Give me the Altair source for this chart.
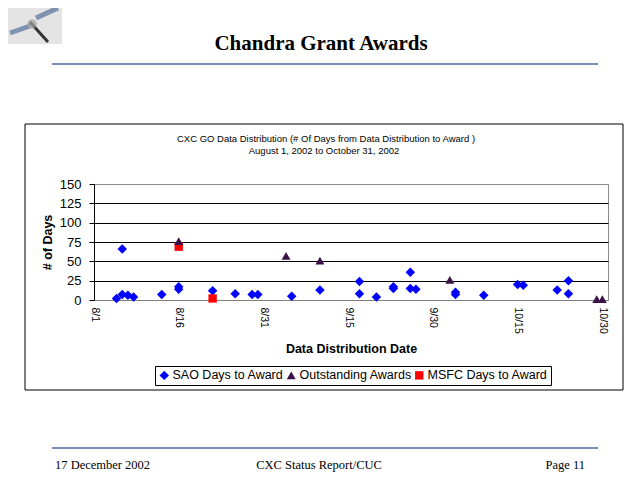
import altair as alt
import pandas as pd

# data (date of data distribution, days until award)
sao_dates = ["2002-08-05", "2002-08-06", "2002-08-06", "2002-08-07", "2002-08-08",
             "2002-08-13", "2002-08-16", "2002-08-16", "2002-08-22", "2002-08-26",
             "2002-08-29", "2002-08-30", "2002-09-05", "2002-09-10", "2002-09-17",
             "2002-09-17", "2002-09-20", "2002-09-23", "2002-09-23", "2002-09-26",
             "2002-09-26", "2002-09-27", "2002-10-04", "2002-10-04", "2002-10-09",
             "2002-10-15", "2002-10-16", "2002-10-22", "2002-10-24", "2002-10-24"]
sao_days = [2, 7, 66, 6, 4,
            7, 17, 14, 12, 8,
            7, 7, 5, 13, 24,
            8, 4, 17, 15, 36,
            15, 14, 10, 7, 6,
            20, 19, 13, 25, 8]

outstanding_dates = ["2002-08-16", "2002-09-04", "2002-09-10", "2002-10-03", "2002-10-29", "2002-10-30"]
outstanding_days = [76, 57, 51, 26, 1, 1]

msfc_dates = ["2002-08-16", "2002-08-22"]
msfc_days = [69, 2]

series = ["SAO Days to Award", "Outstanding Awards", "MSFC Days to Award"]
colors = ["#0000ff", "#3b1248", "#ff0000"]
shapes = ["diamond", "triangle-up", "square"]
sizes = [90, 70, 30]
draw_order = [0, 2, 1]  # triangles sit on top of the red squares

y_ticks = [0, 25, 50, 75, 100, 125, 150]
x_ticks = ["2002-08-01", "2002-08-16", "2002-08-31", "2002-09-15", "2002-09-30", "2002-10-15", "2002-10-30"]

SANS = "Liberation Sans"
SERIF = "Liberation Serif"


def utc_day(s):
    y, m, d = (int(p) for p in s.split("-"))
    return alt.DateTime(year=y, month=m, date=d, utc=True)


df = pd.concat([
    pd.DataFrame({"date": sao_dates, "days": sao_days, "series": series[0]}),
    pd.DataFrame({"date": outstanding_dates, "days": outstanding_days, "series": series[1]}),
    pd.DataFrame({"date": msfc_dates, "days": msfc_days, "series": series[2]}),
], ignore_index=True)
df["order"] = df["series"].map(dict(zip(series, draw_order)))

W, H = 514, 116
one = pd.DataFrame({"k": [0]})

legend = alt.Legend(
    title=None, orient="none", legendX=61, legendY=182, direction="horizontal",
    strokeColor="black", fillColor="white", padding=3, columnPadding=1,
    labelFont=SANS, labelFontSize=12.5, labelColor="black", labelLimit=200,
    symbolSize=50, symbolStrokeWidth=0, labelOffset=2,
)

points = alt.Chart(df).mark_point(filled=True, opacity=1, strokeWidth=0).encode(
    x=alt.X("date:T",
            scale=alt.Scale(type="utc", domain=[utc_day("2002-08-01"), utc_day("2002-10-31")]),
            axis=alt.Axis(values=[utc_day(t) for t in x_ticks],
                          labelExpr="utcFormat(datum.value, '%-m/%-d')",
                          labelAngle=90, labelFont=SANS, labelFontSize=10.5,
                          labelPadding=7, ticks=False, grid=False,
                          domainColor="#808080", labelColor="black",
                          title="Data Distribution Date", titleFont=SANS,
                          titleFontSize=12.5, titleFontWeight="bold",
                          titleY=42, titleColor="black")),
    y=alt.Y("days:Q",
            scale=alt.Scale(domain=[0, 150], nice=False),
            axis=alt.Axis(values=y_ticks, labelFont=SANS, labelFontSize=13,
                          labelColor="black", labelPadding=8, tickSize=5,
                          tickColor="black", domainColor="black",
                          gridColor={"condition": {"test": "datum.value === 150 || datum.value === 0",
                                                   "value": "#8c8c8c"},
                                     "value": "black"},
                          gridOpacity=1, gridWidth=1.2,
                          title="# of Days", titleFont=SANS, titleFontSize=12.5,
                          titleFontWeight="bold", titleColor="black",
                          titleX=-47, titleY=H / 2, titleBaseline="middle")),
    color=alt.Color("series:N", scale=alt.Scale(domain=series, range=colors), legend=legend),
    shape=alt.Shape("series:N", scale=alt.Scale(domain=series, range=shapes), legend=legend),
    size=alt.Size("series:N", scale=alt.Scale(domain=series, range=sizes), legend=None),
    order=alt.Order("order:Q"),
)


def text(t, x, y, size, font=SANS, weight="normal", align="center"):
    return alt.Chart(one).mark_text(
        text=t, font=font, fontSize=size, fontWeight=weight, align=align,
        baseline="middle", color="black"
    ).encode(x=alt.value(x), y=alt.value(y))


def hline(x1, x2, y, color="#4d6a9c", width=1.5):
    return alt.Chart(one).mark_rule(color=color, strokeWidth=width).encode(
        x=alt.value(x1), x2=alt.value(x2), y=alt.value(y))


# slide decorations, positions relative to the plot area (page x-94, y-184)
logo = alt.Chart(one).mark_rect(fill="#e4e4e4").encode(
    x=alt.value(-86), x2=alt.value(-32), y=alt.value(-180), y2=alt.value(-140))
panel1 = alt.Chart(one).mark_rule(color="#7f93b0", strokeWidth=5).encode(
    x=alt.value(-84), x2=alt.value(-64), y=alt.value(-151), y2=alt.value(-158))
panel2 = alt.Chart(one).mark_rule(color="#7f93b0", strokeWidth=5).encode(
    x=alt.value(-58), x2=alt.value(-36), y=alt.value(-166), y2=alt.value(-176))
body = alt.Chart(one).mark_rule(color="#333333", strokeWidth=3).encode(
    x=alt.value(-64), x2=alt.value(-46), y=alt.value(-162), y2=alt.value(-142))
dish = alt.Chart(one).mark_circle(color="#a0a0a0", size=90).encode(
    x=alt.value(-62), y=alt.value(-160))

frame = alt.Chart(one).mark_rect(fillOpacity=0, stroke="black", strokeWidth=1).encode(
    x=alt.value(-69), x2=alt.value(529), y=alt.value(-60), y2=alt.value(206))

layers = [
    logo, panel1, panel2, body, dish,
    text("Chandra Grant Awards", 227, -140, 21, font=SERIF, weight="bold"),
    hline(-42, 504, -120),
    frame,
    text("CXC GO Data Distribution (# Of Days from Data Distribution to Award )", 232, -45, 9.5),
    text("August 1, 2002 to October 31, 2002", 230, -33, 9.5),
    hline(-42, 504, 264),
    text("17 December 2002", -39, 281, 12.5, font=SERIF, align="left"),
    text("CXC Status Report/CUC", 225, 281, 12.5, font=SERIF),
    text("Page 11", 491, 281, 12.5, font=SERIF, align="right"),
    points,
]

chart = alt.layer(*layers).properties(
    width=W, height=H,
    autosize=alt.AutoSizeParams(type="none"),
    padding={"left": 86, "top": 176, "right": 24, "bottom": 172},
    background="white",
).configure_view(
    stroke="#8c8c8c", strokeWidth=1
)

chart.save("out.html", embed_options={"renderer": "svg", "actions": False})
